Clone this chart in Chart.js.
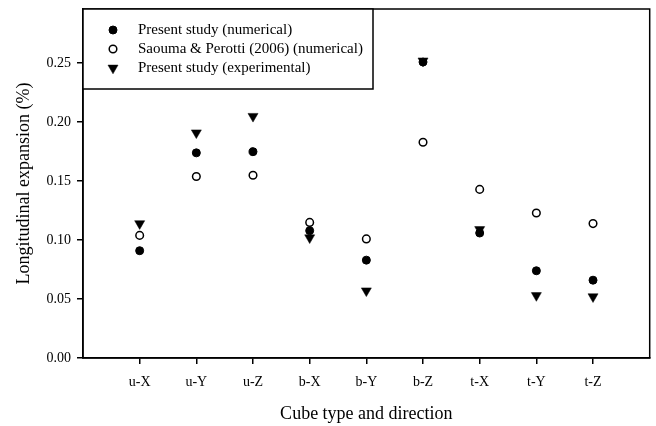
<!DOCTYPE html>
<html>
<head>
<meta charset="utf-8">
<script src="https://cdn.jsdelivr.net/npm/chart.js@4"></script>
<style>
html, body { margin: 0; padding: 0; background: #fff; }
</style>
</head>
<body>
<canvas id="expansion" width="656" height="426"></canvas>
<script>
var cubes = ['u-X', 'u-Y', 'u-Z', 'b-X', 'b-Y', 'b-Z', 't-X', 't-Y', 't-Z'];
var presentNumerical = [0.091, 0.174, 0.175, 0.108, 0.083, 0.251, 0.106, 0.074, 0.066];
var saoumaNumerical = [0.104, 0.154, 0.155, 0.115, 0.101, 0.183, 0.143, 0.123, 0.114];
var presentExperimental = [0.114, 0.191, 0.205, 0.102, 0.057, 0.252, 0.109, 0.053, 0.052];
var yTicks = [0, 0.05, 0.10, 0.15, 0.20, 0.25];

var serif = '"Liberation Serif", "Times New Roman", serif';

function toPoints(values) {
    return values.map(function(v, i) {
        return { x: i + 1, y: v };
    });
}

// box around the plot and the legend in its top-left corner
var framePlugin = {
    id: 'frame',
    afterDraw: function(chart) {
        var ctx = chart.ctx;
        var a = chart.chartArea;
        ctx.save();
        ctx.strokeStyle = '#000';
        ctx.lineWidth = 1.5;
        ctx.strokeRect(a.left, a.top, a.right - a.left, a.bottom - a.top);

        var bx = a.left, by = a.top, bw = 290, bh = 80;
        ctx.fillStyle = '#fff';
        ctx.fillRect(bx, by, bw, bh);
        ctx.strokeRect(bx, by, bw, bh);

        ctx.font = '15px ' + serif;
        ctx.textBaseline = 'middle';
        chart.data.datasets.forEach(function(ds, i) {
            var y = by + 21 + i * 19;
            ctx.fillStyle = ds.backgroundColor;
            ctx.strokeStyle = ds.borderColor;
            ctx.lineWidth = ds.borderWidth;
            Chart.helpers.drawPoint(ctx, {
                pointStyle: ds.pointStyle,
                rotation: ds.pointRotation || 0,
                radius: ds.pointRadius,
                borderWidth: ds.borderWidth
            }, bx + 30, y);
            ctx.fillStyle = '#000';
            ctx.fillText(ds.label, bx + 55, y);
        });
        ctx.restore();
    }
};

var config = {
    type: 'scatter',
    data: {
        datasets: [{
            label: 'Present study (numerical)',
            data: toPoints(presentNumerical),
            pointStyle: 'circle',
            pointRadius: 4,
            backgroundColor: '#000',
            borderColor: '#000',
            borderWidth: 1
        }, {
            label: 'Saouma & Perotti (2006) (numerical)',
            data: toPoints(saoumaNumerical),
            pointStyle: 'circle',
            pointRadius: 3.8,
            backgroundColor: '#fff',
            borderColor: '#000',
            borderWidth: 1.5
        }, {
            label: 'Present study (experimental)',
            data: toPoints(presentExperimental),
            pointStyle: 'triangle',
            pointRotation: 180,
            pointRadius: 5.8,
            backgroundColor: '#000',
            borderColor: '#000',
            borderWidth: 0.5
        }]
    },
    options: {
        responsive: false,
        animation: false,
        layout: { padding: { top: 9, right: 4, left: 0, bottom: 0 } },
        plugins: {
            legend: { display: false },
            tooltip: { enabled: false }
        },
        scales: {
            x: {
                type: 'linear',
                min: 0,
                max: 10,
                afterBuildTicks: function(scale) {
                    scale.ticks = cubes.map(function(c, i) { return { value: i + 1 }; });
                },
                afterFit: function(scale) {
                    scale.height = 68;
                    scale.paddingLeft = 0;
                    scale.paddingRight = 0;
                },
                ticks: {
                    color: '#000',
                    padding: 10,
                    maxRotation: 0,
                    font: { family: serif, size: 14 },
                    callback: function(v) { return cubes[v - 1]; }
                },
                grid: { drawOnChartArea: false, tickLength: 6, color: '#000', lineWidth: 1.5 },
                border: { color: '#000', width: 1.5 },
                title: {
                    display: true,
                    text: 'Cube type and direction',
                    color: '#000',
                    font: { family: serif, size: 18 },
                    padding: { top: 0, bottom: 1 }
                }
            },
            y: {
                min: 0,
                max: 0.296,
                afterBuildTicks: function(scale) {
                    scale.ticks = yTicks.map(function(v) { return { value: v }; });
                },
                afterFit: function(scale) {
                    scale.width = 83;
                    scale.paddingTop = 0;
                    scale.paddingBottom = 0;
                },
                ticks: {
                    color: '#000',
                    padding: 6,
                    font: { family: serif, size: 14 },
                    callback: function(v) { return v.toFixed(2); }
                },
                grid: { drawOnChartArea: false, tickLength: 6, color: '#000', lineWidth: 1.5 },
                border: { color: '#000', width: 1.5 },
                title: {
                    display: true,
                    text: 'Longitudinal expansion (%)',
                    color: '#000',
                    font: { family: serif, size: 18 },
                    padding: { top: 13, bottom: 0 }
                }
            }
        }
    },
    plugins: [framePlugin]
};

var expansionChart = new Chart(document.getElementById('expansion'), config);
</script>
</body>
</html>
